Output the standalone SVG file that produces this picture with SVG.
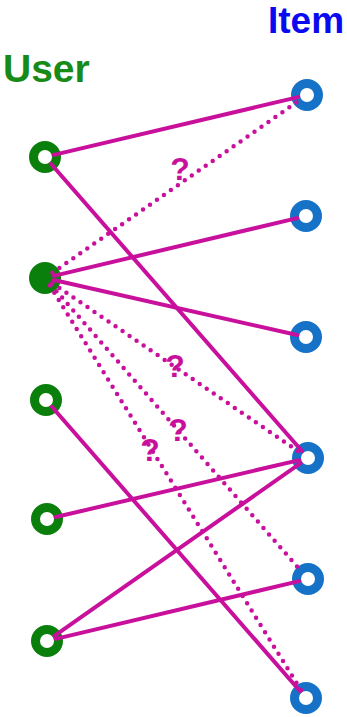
<svg xmlns="http://www.w3.org/2000/svg" width="347" height="717" viewBox="0 0 347 717">
  <style>
    .title { font-family: "Liberation Sans", Arial, sans-serif; font-weight: bold; font-size: 39px; }
    .user-title { fill: #178a17; }
    .item-title { fill: #0a0af0; font-size: 37px; }
    .user { fill: none; stroke: #0b7f0b; stroke-width: 9; }
    .user-known { fill: #0b7f0b; }
    .item { fill: none; stroke: #1572c6; stroke-width: 9; }
    .edge { stroke: #c8109c; stroke-width: 4; stroke-linecap: round; fill: none; }
    .guess { stroke: #c8109c; stroke-width: 4.5; stroke-linecap: round; stroke-dasharray: 0 8.5; fill: none; }
    .q { font-family: "Liberation Sans", Arial, sans-serif; font-weight: bold; font-size: 32px; fill: #c8109c; text-anchor: middle; }
  </style>
  <rect width="347" height="717" fill="#ffffff"/>

  <text class="title user-title" x="3" y="82">User</text>
  <text class="title item-title" x="268" y="33">Item</text>

  <!-- users -->
  <g id="user1"><circle class="user" cx="45" cy="157" r="11.5"/></g>
  <g id="user2"><circle class="user-known" cx="45" cy="278" r="16"/></g>
  <g id="user3"><circle class="user" cx="46" cy="400" r="11.5"/></g>
  <g id="user4"><circle class="user" cx="47" cy="519" r="11.5"/></g>
  <g id="user5"><circle class="user" cx="47" cy="641" r="11.5"/></g>

  <!-- items -->
  <g id="item1"><circle class="item" cx="307" cy="95" r="11.5"/></g>
  <g id="item2"><circle class="item" cx="306" cy="216" r="11.5"/></g>
  <g id="item3"><circle class="item" cx="306" cy="337" r="11.5"/></g>
  <g id="item4"><circle class="item" cx="308" cy="458" r="11.5"/></g>
  <g id="item5"><circle class="item" cx="308" cy="579" r="11.5"/></g>
  <g id="item6"><circle class="item" cx="306" cy="698" r="11.5"/></g>

  <g id="connectors">
    <!-- observed interactions -->
    <line class="edge" x1="53.8" y1="154.9" x2="298.2" y2="97.1"/>
    <line class="edge" x1="50.9" y1="163.8" x2="302.1" y2="451.2"/>
    <line class="edge" x1="53.8" y1="275.9" x2="297.2" y2="218.1"/>
    <line class="edge" x1="53.8" y1="280.0" x2="297.2" y2="335.0"/>
    <line class="edge" x1="51.9" y1="406.8" x2="300.1" y2="691.2"/>
    <line class="edge" x1="55.8" y1="517.0" x2="299.2" y2="460.1"/>
    <line class="edge" x1="54.4" y1="635.8" x2="300.6" y2="463.2"/>
    <line class="edge" x1="55.8" y1="638.9" x2="299.2" y2="581.1"/>
    <!-- unknown interactions -->
    <line class="guess" x1="52.4" y1="272.8" x2="299.6" y2="100.2"/>
    <line class="guess" x1="52.4" y1="283.1" x2="300.6" y2="452.9"/>
    <line class="guess" x1="50.9" y1="284.8" x2="302.1" y2="572.2"/>
    <line class="guess" x1="49.8" y1="285.6" x2="301.2" y2="690.4"/>
    <text class="q" x="180" y="180">?</text>
    <text class="q" x="175" y="377">?</text>
    <text class="q" x="178" y="441">?</text>
    <text class="q" x="150" y="461">?</text>
  </g>
</svg>
